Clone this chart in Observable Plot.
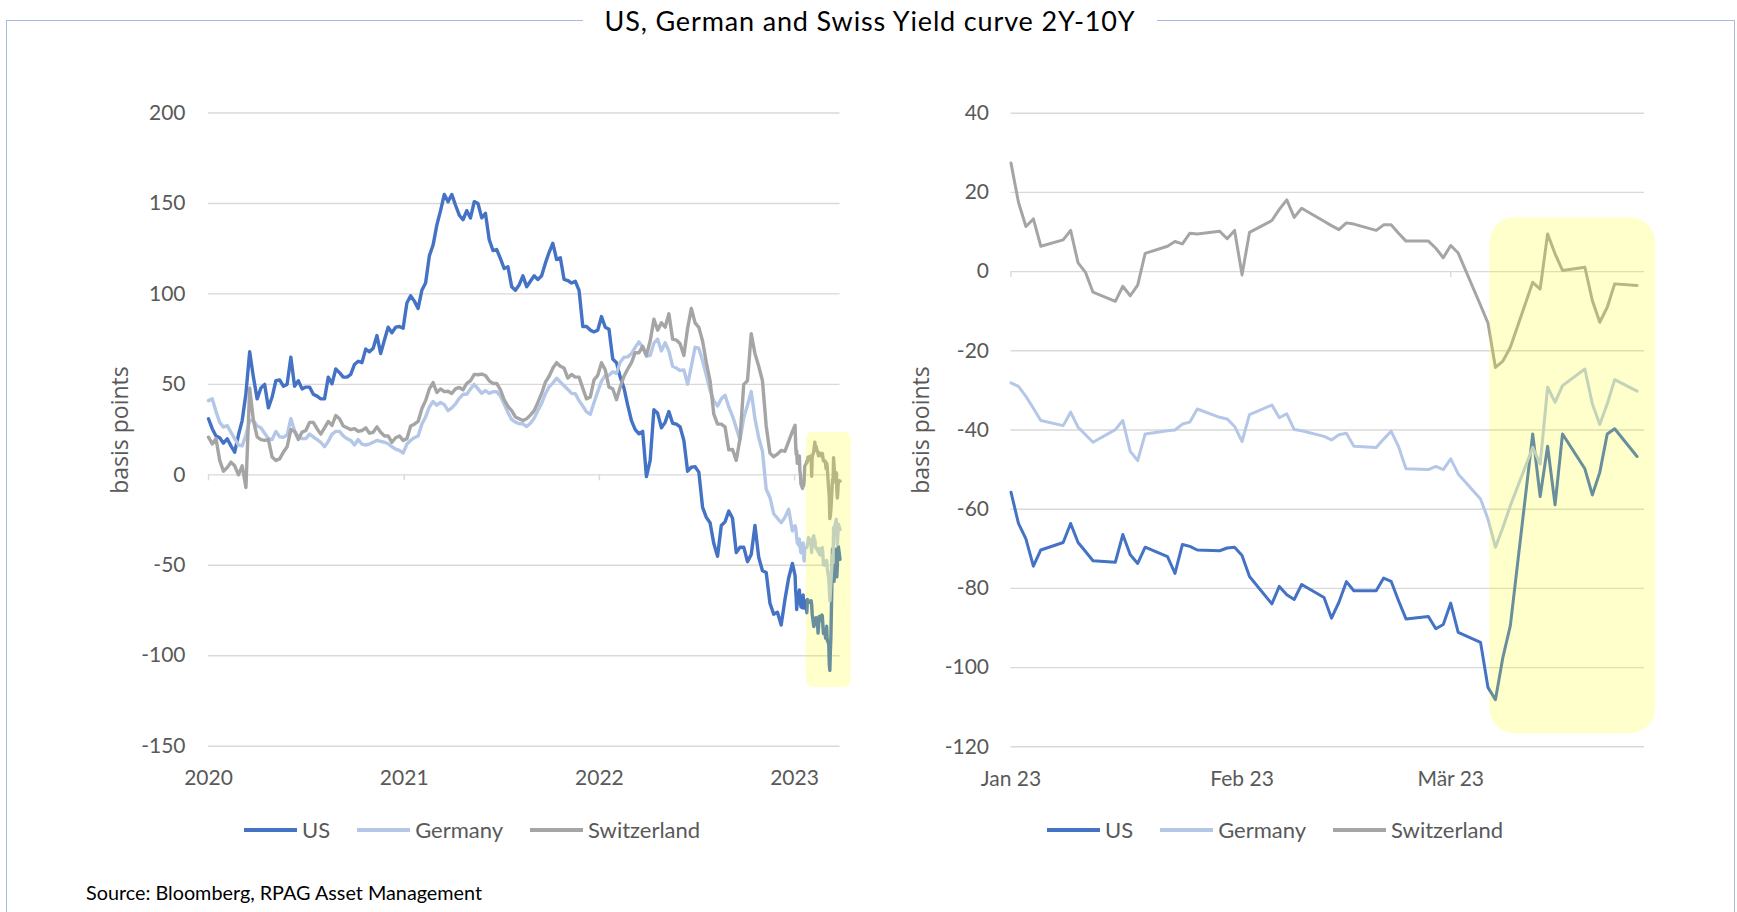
<!DOCTYPE html>
<html>
<head>
<meta charset="utf-8">
<script src="https://cdn.jsdelivr.net/npm/d3@7"></script>
<script src="https://cdn.jsdelivr.net/npm/@observablehq/plot@0.6"></script>
<style>
html, body { margin: 0; padding: 0; background: #fff; }
#wrap { position: relative; width: 1737px; height: 912px; overflow: hidden; background: #fff; font-family: Lato, sans-serif; }
#frame { position: absolute; left: 6px; top: 20px; width: 1729px; height: 1000px; border: 1.6px solid #a6bbe3; box-sizing: border-box; }
#title { position: absolute; left: 583px; width: 574px; top: 4px; height: 34px; line-height: 34px; text-align: center; background: #fff; font-size: 27px; letter-spacing: 0.85px; color: #000; white-space: nowrap; }
.chart { position: absolute; top: 0; }
.chart svg { display: block; max-width: none; }
.ylab { position: absolute; font-family: "Open Sans", sans-serif; font-size: 23px; color: #595959; transform: translate(-50%, -50%) rotate(-90deg); white-space: nowrap; }
.legend { position: absolute; top: 818px; height: 24px; display: flex; align-items: center; gap: 27px; font-size: 22px; line-height: 24px; color: #595959; white-space: nowrap; }
.legend .item { display: flex; align-items: center; }
.legend .sw { width: 53px; height: 4px; margin-right: 5px; }
#source { position: absolute; left: 86px; top: 881px; font-size: 19.8px; line-height: 22px; color: #000; white-space: nowrap; }
</style>
</head>
<body>
<div id="wrap">
  <div id="frame"></div>
  <div id="left" class="chart" style="left:0px"></div>
  <div id="right" class="chart" style="left:870px"></div>
  <div id="title"></div>
  <div class="ylab" style="left:119px; top:430px">basis points</div>
  <div class="ylab" style="left:920px; top:430px">basis points</div>
  <div id="legendLeft" class="legend" style="left:244px"></div>
  <div id="legendRight" class="legend" style="left:1047px"></div>
  <div id="source"></div>
</div>
<script>
// ---------- texts ----------
const titleText = "US, German and Swiss Yield curve 2Y-10Y";
const sourceText = "Source: Bloomberg, RPAG Asset Management";
const seriesNames = ["US", "Germany", "Switzerland"];
const seriesColors = ["#4472c4", "#b4c7e7", "#a5a5a5"];

// ---------- left chart: weekly readings 2020-2022 (basis points) ----------
const histStart = "2020-01-01"; // one reading per week from this date
const histUS = [
  31, 25.5, 21.5, 20.5, 17.5, 19.9, 16, 12.5, 22, 30,
  45, 68, 54, 42, 48, 50, 37, 43, 52, 52.5,
  49, 50, 65, 49, 52, 47.5, 48.5, 48.5, 44.5, 43.5,
  42, 42, 54, 50.3, 58.5, 56.5, 54, 54, 55.5, 61,
  62.8, 62, 69.5, 68, 70, 77, 67, 74.5, 81.6, 78.5,
  81.6, 82, 81, 95, 99, 96, 92, 102, 106, 121,
  127, 138, 146, 155, 151, 155, 149, 143.5, 141, 146,
  142, 151, 150, 142, 144.5, 130, 124, 124.5, 119.5, 114,
  115, 104, 102, 105, 110, 104, 107, 110, 108, 110,
  117, 123, 128, 119, 120, 108, 107.4, 106, 107, 102,
  82, 82, 80, 79, 80, 87.5, 81.6, 80.5, 64, 62,
  54, 48, 38.5, 30, 25, 22.7, 24, -1, 8, 36,
  34, 26, 29, 35, 28.5, 28, 26.5, 19, 2, 4.2,
  4.5, 1.5, -18, -23.5, -26.5, -38, -45, -28, -26, -20,
  -24, -43, -40, -40, -48, -44, -28, -45.6, -53, -54,
  -71, -77, -76, -83, -69, -57, -49
];
const histDE = [
  41, 42, 35, 29, 26.4, 27.3, 23.5, 20, 16.5, 16,
  22, 30, 30, 27, 26, 23, 20, 19.5, 24, 21,
  20.8, 22, 31, 24.5, 21, 20, 20, 22.5, 21, 19.5,
  18, 15.5, 18.5, 22.5, 24, 24, 21.5, 20, 19, 16.5,
  19.5, 17, 16.5, 17, 18, 19, 18.5, 18, 17.2, 15.5,
  14.2, 13.5, 12, 17, 19, 20.5, 21.5, 28, 32, 37.5,
  40.5, 38.5, 40, 38.8, 35.5, 37, 39.2, 42.3, 44.5, 44.5,
  47.5, 50, 47.5, 45, 46.6, 45, 45.9, 46, 43.5, 39,
  34.5, 30.5, 29.1, 28.2, 28.2, 26.7, 28.5, 31.3, 35.5, 39.5,
  44.8, 48.6, 50.7, 53.4, 51.3, 49.2, 47.2, 45, 44.8, 41,
  38, 34.8, 33.5, 40, 46, 51.8, 55, 55, 57, 56,
  62.2, 65, 65.2, 67, 70.5, 73.5, 70.5, 65.5, 66, 72.8,
  75, 68.5, 73, 68.5, 60, 59, 57.7, 58, 50, 60,
  70.5, 70, 63, 55, 46.7, 40.8, 38, 42, 44, 37.5,
  32.5, 26, 19.2, 31.5, 38.5, 46, 31, 20.5, 13, -8,
  -12.5, -21.5, -24, -26.5, -23.5, -19, -31
];
const histCH = [
  20.8, 17.1, 20, 8, 2, 4, 7, 5, 0, 5,
  -7, 48, 30, 21, 19.5, 19, 19.5, 9.8, 7.9, 8.8,
  12.5, 15.5, 25, 24, 19.5, 23.6, 24.5, 29, 29, 25.5,
  22.5, 26, 29.5, 27.3, 32.8, 31, 27, 26, 25, 25.5,
  24, 24.5, 26, 23, 23.5, 26.5, 23.5, 21.5, 21.5, 18,
  20.5, 21.5, 19, 20, 27, 28, 29.5, 36.5, 41, 47.5,
  51, 45.5, 47.5, 46, 46.2, 45, 47.5, 48.3, 47, 50.6,
  52, 55.5, 55.3, 55.7, 54.9, 52, 50.5, 50.5, 47, 41.5,
  37.8, 35.5, 32, 31, 30, 31, 33, 35.5, 40, 45,
  51.2, 54.5, 59, 62, 60, 59, 53.5, 55.5, 54, 54,
  47.8, 42, 43, 52.5, 55, 62, 58, 48.5, 47.6, 41.5,
  48.5, 54.5, 58.5, 62, 67.5, 67.5, 71, 66, 74, 86,
  80, 84, 81.6, 89, 75, 74.5, 72.5, 66, 81, 92,
  84, 81.5, 74, 62, 52, 33.5, 28, 28, 26.5, 13.8,
  14, 8, 20, 50, 52, 78, 67, 60, 52, 27,
  12, 10, 11.5, 13.5, 13, 18.5, 24
];

// ---------- 2023 daily readings (both charts) ----------
const ytdDates = [
  "2023-01-02","2023-01-03","2023-01-04","2023-01-05","2023-01-06",
  "2023-01-09","2023-01-10","2023-01-11","2023-01-12","2023-01-13",
  "2023-01-16","2023-01-17","2023-01-18","2023-01-19","2023-01-20",
  "2023-01-23","2023-01-24","2023-01-25","2023-01-26","2023-01-27",
  "2023-01-30","2023-01-31","2023-02-01","2023-02-02","2023-02-03",
  "2023-02-06","2023-02-07","2023-02-08","2023-02-09","2023-02-10",
  "2023-02-13","2023-02-14","2023-02-15","2023-02-16","2023-02-17",
  "2023-02-20","2023-02-21","2023-02-22","2023-02-23","2023-02-24",
  "2023-02-27","2023-02-28","2023-03-01","2023-03-02","2023-03-03",
  "2023-03-06","2023-03-07","2023-03-08","2023-03-09","2023-03-10",
  "2023-03-13","2023-03-14","2023-03-15","2023-03-16","2023-03-17",
  "2023-03-20","2023-03-21","2023-03-22","2023-03-23","2023-03-24",
  "2023-03-27"
];
const ytdUS = [
  -55.7, -63.6, -67.5, -74.4, -70.3,
  -68.4, -63.6, -68.4, -70.7, -73.0,
  -73.4, -66.4, -71.5, -73.7, -69.6,
  -72.0, -76.2, -68.9, -69.4, -70.3,
  -70.5, -69.8, -69.6, -71.7, -77.0,
  -83.9, -79.5, -81.6, -82.8, -79.0,
  -82.3, -87.5, -83.5, -78.3, -80.6,
  -80.6, -77.4, -78.2, -83.1, -87.7,
  -87.1, -90.2, -89.1, -83.7, -91.1,
  -93.6, -105.0, -108.1, -97.4, -89.4,
  -41.0, -56.8, -44.1, -58.9, -41.0,
  -49.8, -56.4, -50.7, -41.0, -39.7,
  -46.7
];
const ytdDE = [
  -28.1, -29.0, -31.5, -34.5, -37.6,
  -38.9, -35.5, -39.3, -41.2, -43.1,
  -39.9, -37.6, -45.4, -47.7, -41.0,
  -40.2, -40.0, -38.5, -38.0, -34.7,
  -36.8, -37.2, -39.1, -42.9, -36.1,
  -33.7, -36.9, -35.9, -39.9, -40.2,
  -41.6, -42.5, -41.2, -40.8, -44.1,
  -44.4, -42.3, -40.3, -44.2, -49.8,
  -50.0, -49.2, -50.0, -47.3, -51.1,
  -57.4, -62.5, -69.6, -64.6, -59.1,
  -44.4, -48.6, -29.2, -33.0, -28.8,
  -24.6, -33.4, -38.6, -33.4, -27.3,
  -30.2
];
const ytdCH = [
  27.4, 17.5, 11.4, 13.3, 6.4,
  8.0, 10.4, 2.2, -0.2, -5.2,
  -7.5, -3.7, -6.1, -3.4, 4.6,
  6.4, 7.6, 7.0, 9.7, 9.5,
  10.2, 8.3, 10.4, -0.8, 9.9,
  12.9, 15.7, 18.1, 13.7, 16.0,
  12.7, 11.6, 10.6, 12.3, 12.0,
  10.4, 11.8, 11.8, 9.7, 7.7,
  7.7, 5.9, 3.5, 6.6, 4.7,
  -8.5, -13.0, -24.2, -22.6, -19.1,
  -2.7, -4.4, 9.5, 4.5, 0.3,
  1.1, -7.3, -12.8, -9.0, -3.1,
  -3.5
];

// ---------- axes ----------
const leftXDomain = ["2020-01-01", "2023-03-27"];
const leftXTicks = ["2020-01-01", "2021-01-01", "2022-01-01", "2023-01-01"];
const leftYTicks = [-150, -100, -50, 0, 50, 100, 150, 200];
const rightXDomain = ["2023-01-02", "2023-03-28"];
const rightXTicks = ["2023-01-02", "2023-02-02", "2023-03-02"];
const rightXTickLabels = ["Jan 23", "Feb 23", "Mär 23"];
const rightYTicks = [-120, -100, -80, -60, -40, -20, 0, 20, 40];

// ---------- highlighted areas ----------
const leftHighlight = {x1: "2023-01-23", x2: "2023-04-17", y1: -117.6, y2: 23.5};
const rightHighlight = {x1: "2023-03-07T06:00", x2: "2023-03-29T12:00", y1: -116.7, y2: 13.6};

// ---------- build ----------
const parse = (s) => new Date(s.length > 10 ? s + "Z" : s + "T00:00Z");
const histDates = histUS.map((_, i) => d3.utcDay.offset(parse(histStart), 7 * i));
const ytd = ytdDates.map(parse);
const gridColor = "#d9d9d9";
const tickColor = "#595959";
const numFormat = (d) => String(d); // plain hyphen-minus like the original

function rowsOf(hist, y) {
  const a = hist ? hist.map((v, i) => ({date: histDates[i], value: v})) : [];
  return a.concat(y.map((v, i) => ({date: ytd[i], value: v})));
}
function hl(h) {
  return {x1: parse(h.x1), x2: parse(h.x2), y1: h.y1, y2: h.y2};
}

const leftSeries = [rowsOf(histUS, ytdUS), rowsOf(histDE, ytdDE), rowsOf(histCH, ytdCH)];
const rightSeries = [rowsOf(null, ytdUS), rowsOf(null, ytdDE), rowsOf(null, ytdCH)];

const lx = leftXTicks.map(parse);
const left = Plot.plot({
  width: 870, height: 800,
  marginLeft: 208, marginRight: 30.5, marginTop: 112.5, marginBottom: 54.3,
  style: {background: "transparent", fontFamily: "Lato, sans-serif", overflow: "visible"},
  x: {type: "utc", domain: leftXDomain.map(parse), axis: null},
  y: {domain: [-150, 200], axis: null},
  marks: [
    Plot.ruleY(leftYTicks, {stroke: gridColor, strokeWidth: 1.4}),
    Plot.ruleX(lx, {x: (d) => d, y1: 0, y2: 0, insetBottom: -6, stroke: gridColor, strokeWidth: 1.4}),
    Plot.axisY(leftYTicks, {tickSize: 0, tickPadding: 23, fontSize: 21, fill: tickColor, label: null, tickFormat: numFormat}),
    Plot.axisX(lx, {tickSize: 0, tickPadding: 24, fontSize: 21, fill: tickColor, label: null, tickFormat: d3.utcFormat("%Y")}),
    ...leftSeries.map((rows, i) => Plot.line(rows, {x: "date", y: "value", stroke: seriesColors[i], strokeWidth: 3.4, strokeLinejoin: "round"})),
    Plot.rect([hl(leftHighlight)], {x1: "x1", x2: "x2", y1: "y1", y2: "y2", fill: "#ffff00", fillOpacity: 0.2, rx: 7})
  ]
});
document.getElementById("left").appendChild(left);

const rx = rightXTicks.map(parse);
const labelMap = new Map(rx.map((d, i) => [+d, rightXTickLabels[i]]));
const right = Plot.plot({
  width: 867, height: 800,
  marginLeft: 140.5, marginRight: 93, marginTop: 112.7, marginBottom: 53.7,
  style: {background: "transparent", fontFamily: "Lato, sans-serif", overflow: "visible"},
  x: {type: "utc", domain: rightXDomain.map(parse), axis: null},
  y: {domain: [-120, 40], axis: null},
  marks: [
    Plot.ruleY(rightYTicks, {stroke: gridColor, strokeWidth: 1.4}),
    Plot.ruleX(rx, {x: (d) => d, y1: 0, y2: 0, insetBottom: -6, stroke: gridColor, strokeWidth: 1.4}),
    Plot.axisY(rightYTicks, {tickSize: 0, tickPadding: 22, fontSize: 21, fill: tickColor, label: null, tickFormat: numFormat}),
    Plot.axisX(rx, {tickSize: 0, tickPadding: 24, fontSize: 21, fill: tickColor, label: null, tickFormat: (d) => labelMap.get(+d)}),
    ...rightSeries.map((rows, i) => Plot.line(rows, {x: "date", y: "value", stroke: seriesColors[i], strokeWidth: 3, strokeLinejoin: "round"})),
    Plot.rect([hl(rightHighlight)], {x1: "x1", x2: "x2", y1: "y1", y2: "y2", fill: "#ffff00", fillOpacity: 0.2, rx: 25})
  ]
});
document.getElementById("right").appendChild(right);

document.getElementById("title").textContent = titleText;
document.getElementById("source").textContent = sourceText;
for (const id of ["legendLeft", "legendRight"]) {
  const el = document.getElementById(id);
  seriesNames.forEach((name, i) => {
    const item = document.createElement("div");
    item.className = "item";
    const sw = document.createElement("div");
    sw.className = "sw";
    sw.style.background = seriesColors[i];
    const tx = document.createElement("span");
    tx.textContent = name;
    item.appendChild(sw);
    item.appendChild(tx);
    el.appendChild(item);
  });
}
</script>
</body>
</html>
